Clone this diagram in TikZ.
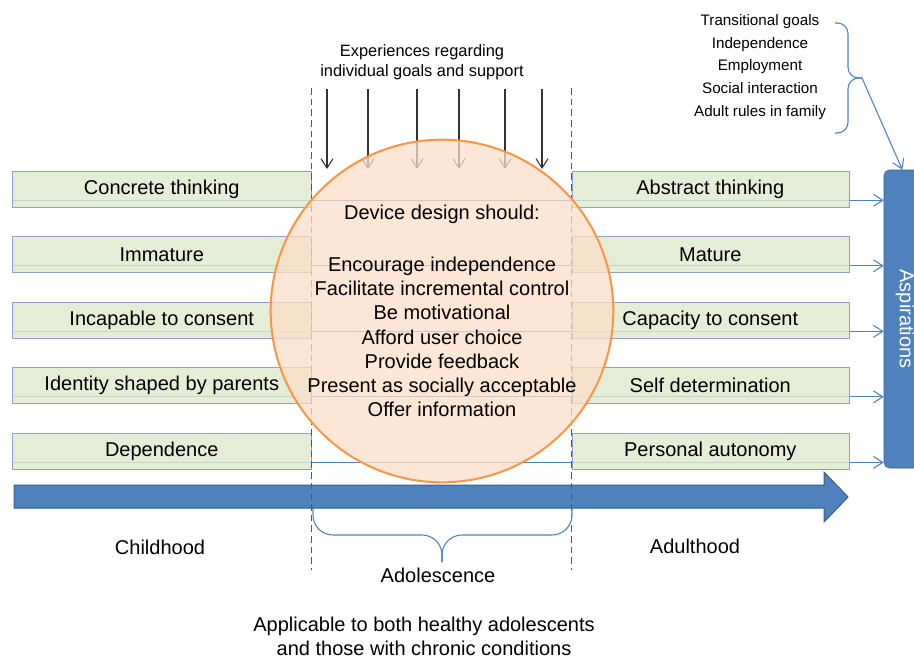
\documentclass[tikz,border=0pt]{standalone}
\usepackage{fontspec}
\setmainfont{Liberation Sans}
\usetikzlibrary{positioning,arrows.meta,backgrounds}
\definecolor{stageblue}{RGB}{79,129,189}
\definecolor{stagedark}{RGB}{56,93,138}
\definecolor{stagegreen}{RGB}{224,233,204}
\definecolor{stageedge}{RGB}{143,163,191}
\definecolor{ringorange}{RGB}{247,150,70}
\definecolor{ringfill}{RGB}{251,222,200}
\begin{document}
\begin{tikzpicture}[x=0.75pt,y=-0.75pt,node distance=21.75pt and 195pt]
	\tikzstyle{stage}=[rectangle, draw=stageedge, fill=stagegreen, fill opacity=0.8, text opacity=1, minimum height=27pt, inner sep=0pt, font=\fontsize{15}{18}\selectfont]
	\tikzstyle{child}=[stage, minimum width=224.25pt]
	\tikzstyle{adult}=[stage, minimum width=207.75pt]
	\tikzstyle{connect}=[-{Straight Barb[length=7pt,width=9pt]}, stageblue, line width=0.8pt]
	\tikzstyle{drop}=[-{Straight Barb[length=7pt,width=9pt]}, black!80, line width=0.8pt]
	\tikzstyle{divide}=[stagedark, dash pattern=on 5pt off 3pt, line width=0.6pt]
	\tikzstyle{curly}=[stageblue, line width=0.8pt]
	\tikzstyle{plain}=[font=\fontsize{15}{18}\selectfont, align=center, inner sep=1pt]
	\useasboundingbox (0,0) rectangle (914,658);
	\node[child] (concrete) at (12,189) [anchor=west] {Concrete thinking};
	\node[child] (immature) [below=of concrete] {Immature};
	\node[child] (incapable) [below=of immature] {Incapable to consent};
	\node[child] (identity) [below=of incapable] {Identity shaped by parents};
	\node[child] (dependence) [below=of identity] {Dependence};
	\node[adult] (abstract) [right=of concrete] {Abstract thinking};
	\node[adult] (mature) [right=of immature] {Mature};
	\node[adult] (capacity) [right=of incapable] {Capacity to consent};
	\node[adult] (self) [right=of identity] {Self determination};
	\node[adult] (autonomy) [right=of dependence] {Personal autonomy};
	\node[rectangle, rounded corners=4pt, draw=stagedark, fill=stageblue, text=white, minimum width=31.5pt, minimum height=223.5pt, inner sep=0pt, font=\fontsize{15}{18}\selectfont] (asp) at (905,319) {\rotatebox{-90}{Aspirations}};
	\begin{scope}[on background layer]
		\foreach \row in {concrete,immature,incapable,identity,dependence}
			\draw[connect] ([yshift=5.25pt]\row.south west) -- ([yshift=5.25pt]\row.south west -| asp.west);
	\end{scope}
	\draw[fill=stageblue, draw=stagedark, line width=0.75pt] (14,485) -- (824,485) -- (824,472) -- (848,497) -- (824,522) -- (824,508) -- (14,508) -- cycle;
	\coordinate (ttop) at (0,88);
	\coordinate (tbot) at (0,570);
	\draw[divide] (concrete.east |- ttop) -- (concrete.east |- tbot);
	\draw[divide] (abstract.west |- ttop) -- (abstract.west |- tbot);
	\node[font=\fontsize{12.3}{15}\selectfont, align=center] (experience) at (422,62) {Experiences regarding\\individual goals and support};
	\foreach \x [count=\i] in {327,368,417,459,505,542} {
		\coordinate (src\i) at (\x,89);
		\coordinate (dst\i) at (\x,169);
		\draw[drop] (src\i) -- (dst\i);
	}
	\node[circle, draw=ringorange, line width=1.5pt, fill=ringfill, fill opacity=0.75, text opacity=1, minimum size=241.5pt, inner sep=0pt, align=center, font=\fontsize{15}{18.2}\selectfont] (design) at (442,311) {Device design should:\\[20.8pt]Encourage independence\\Facilitate incremental control\\Be motivational\\Afford user choice\\Provide feedback\\Present as socially acceptable\\Offer information};
	\node[font=\fontsize{11.4}{16.9}\selectfont, align=center] (goals) at (760,67) {Transitional goals\\Independence\\Employment\\Social interaction\\Adult rules in family};
	\coordinate (gtop) at (835,23);
	\coordinate (gbot) at (835,133);
	\coordinate (gmid) at (848,78);
	\coordinate (gtip) at (862,78);
	\draw[curly, rounded corners=8pt] (gtop) -| (gmid) -- (gtip);
	\draw[curly, rounded corners=8pt] (gbot) -| (gmid) -- (gtip);
	\draw[connect] (gtip) -- ([xshift=-2pt]asp.north);
	\coordinate (aleft) at (313,508);
	\coordinate (aright) at (572,508);
	\coordinate (amid) at (442,535);
	\coordinate (atip) at (442,562);
	\draw[curly, rounded corners=15pt] (aleft) |- (amid) -- (atip);
	\draw[curly, rounded corners=15pt] (aright) |- (amid) -- (atip);
	\node[plain] (childhood) at (160,547) {Childhood};
	\node[plain] (adulthood) at (695,546) {Adulthood};
	\node[plain] (adolescence) at (438,575) {Adolescence};
	\node[plain] (applies) at (424,636) {Applicable to both healthy adolescents\\and those with chronic conditions};
\end{tikzpicture}
\end{document}
